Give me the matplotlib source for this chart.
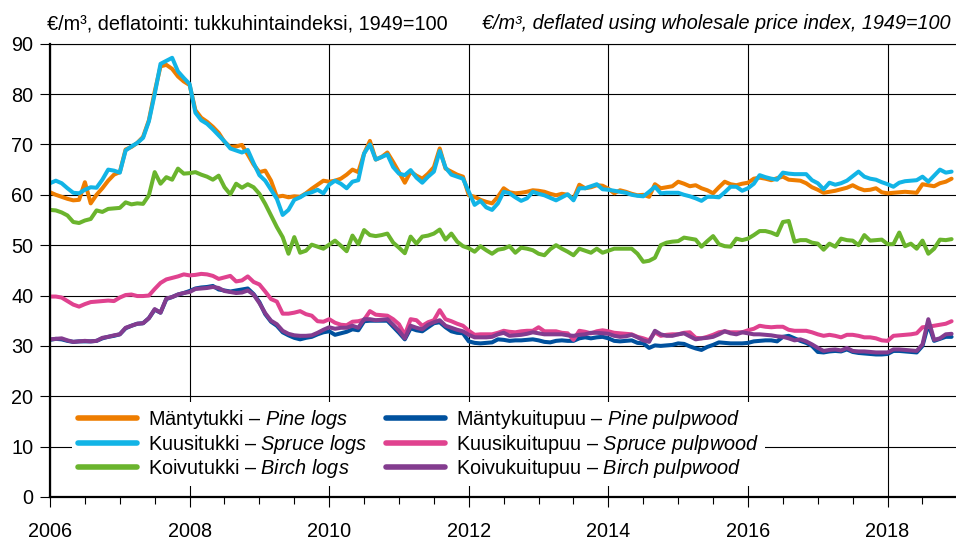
import numpy as np
import matplotlib
matplotlib.use("Agg")
import matplotlib.pyplot as plt
from matplotlib.ticker import MultipleLocator

plt.rcParams['font.family'] = ['Liberation Sans', 'DejaVu Sans']
plt.rcParams['mathtext.fontset'] = 'custom'
plt.rcParams['mathtext.rm'] = 'Liberation Sans'
plt.rcParams['mathtext.it'] = 'Liberation Sans:italic'

# monthly real stumpage prices, Jan 2006 - Dec 2018
pine_logs = [
    60.5, 60.0, 59.6, 59.2, 58.9, 59.0, 62.5, 58.3, 60.0, 61.3, 62.8, 64.0,
    64.5, 69.0, 69.5, 70.3, 71.5, 74.8, 80.5, 85.5, 85.8, 85.0, 83.5, 82.5,
    81.8, 76.8, 75.3, 74.5, 73.5, 72.3, 70.5, 69.5, 69.6, 69.9, 68.0, 66.0,
    64.5, 64.8, 62.8, 59.6, 59.8, 59.5, 59.7, 59.6, 60.3, 61.2, 62.0, 62.8,
    62.6, 62.8, 63.2, 64.0, 65.0, 64.5, 68.2, 70.7, 67.0, 67.5, 68.4, 66.5,
    64.5, 62.4, 64.6, 63.8, 63.2, 64.2, 65.5, 69.2, 65.2, 64.6, 64.0, 63.6,
    59.9, 59.6, 59.0, 58.6, 58.3, 59.6, 61.3, 60.5, 60.3, 60.4, 60.6, 60.9,
    60.8, 60.6, 60.2, 59.9, 60.2, 60.0, 59.2, 62.0, 61.3, 61.5, 61.9, 61.8,
    61.2, 60.3, 60.9, 60.6, 60.2, 59.9, 60.0, 59.6, 62.1, 61.3, 61.5, 61.7,
    62.6, 62.2, 61.7, 61.9, 61.3, 60.9, 60.3, 61.5, 62.6, 62.1, 61.9, 62.2,
    62.4, 63.2, 63.4, 63.2, 62.9, 63.3, 63.6, 63.0, 62.9, 62.8, 62.3, 61.5,
    61.0, 60.4, 60.6, 60.8, 61.1, 61.4, 61.9, 61.3, 60.9, 61.0, 61.3, 60.5,
    60.3, 60.4, 60.5, 60.6, 60.5, 60.4, 62.1, 61.9, 61.7, 62.3, 62.6, 63.2,
]
spruce_logs = [
    62.3, 62.8, 62.3, 61.3, 60.4, 60.3, 61.0, 61.5, 61.4, 63.0, 65.0, 64.8,
    64.4, 68.8, 69.6, 70.3, 71.3, 74.6, 80.0, 86.0, 86.6, 87.2, 84.5, 83.2,
    82.0, 76.3, 74.8, 74.1, 73.0, 71.8, 70.6, 69.2, 68.8, 68.4, 68.9, 66.3,
    63.9, 62.8, 61.0, 59.2, 56.0, 57.0, 59.0, 59.5, 60.2, 60.5, 61.0, 60.3,
    62.0, 62.8, 62.2, 61.3, 62.6, 62.9, 68.2, 70.0, 67.0, 67.5, 68.0, 65.5,
    64.2, 63.9, 64.9, 63.4, 62.4, 63.6, 64.6, 68.7, 65.4, 64.0, 63.6, 63.2,
    60.6, 58.0, 58.8, 57.5, 57.0, 58.3, 60.6, 60.3, 59.5, 58.8, 59.3, 60.6,
    60.2, 59.9, 59.4, 58.9, 59.5, 60.1, 58.9, 61.3, 61.3, 61.7, 62.1, 61.1,
    61.0, 60.8, 60.6, 60.4, 60.0, 59.8, 59.7, 60.6, 61.6, 60.3, 60.4, 60.4,
    60.4, 60.0, 59.7, 59.3, 58.8, 59.6, 59.6, 59.5, 60.5, 61.6, 61.6, 60.8,
    61.3, 62.2, 63.9, 63.5, 63.2, 63.0, 64.4, 64.2, 64.1, 64.1, 64.1, 62.9,
    62.3, 61.1, 62.4, 62.0, 62.3, 62.8, 63.7, 64.6, 63.6, 63.2, 63.0, 62.5,
    62.1, 61.6, 62.4, 62.7, 62.8, 62.9, 63.6, 62.6, 63.8, 65.0, 64.4, 64.6,
]
birch_logs = [
    57.0, 56.9, 56.5, 55.9, 54.6, 54.4, 54.9, 55.2, 56.9, 56.6, 57.2, 57.3,
    57.4, 58.5, 58.1, 58.3, 58.2, 59.9, 64.5, 62.2, 63.5, 63.0, 65.2, 64.2,
    64.3, 64.5, 64.0, 63.6, 63.0, 63.8, 61.5, 60.1, 62.2, 61.4, 62.1, 61.5,
    60.2, 58.2, 55.9, 53.6, 51.6, 48.3, 51.6, 48.5, 48.9, 50.1, 49.7, 49.3,
    50.1, 50.9, 49.9, 48.8, 51.9, 50.2, 53.0, 52.0, 51.8, 52.0, 52.3, 50.5,
    49.5, 48.4, 51.7, 50.3, 51.7, 51.9, 52.3, 53.1, 51.1, 52.3, 50.7, 49.8,
    49.4, 48.7, 49.8, 49.0, 48.3, 49.1, 49.3, 49.8, 48.5, 49.5, 49.3, 49.0,
    48.3, 48.0, 49.2, 50.0, 49.3, 48.7, 48.0, 49.3, 48.9, 48.5, 49.3, 48.5,
    48.9, 49.3, 49.3, 49.3, 49.3, 48.3, 46.7, 46.9, 47.5, 50.0, 50.5, 50.7,
    50.8, 51.5, 51.3, 51.1, 49.7, 50.8, 51.8, 50.2, 49.8, 49.7, 51.3, 51.0,
    51.3, 52.0, 52.8, 52.8, 52.5, 52.0, 54.6, 54.8, 50.7, 51.0, 51.0, 50.5,
    50.3, 49.1, 50.3, 49.7, 51.3, 51.0, 50.9, 50.0, 52.0, 50.9, 51.0, 51.1,
    50.2, 50.2, 52.5, 49.8, 50.3, 49.3, 50.9, 48.3, 49.3, 51.1, 51.0, 51.2,
]
pine_pulp = [
    31.2, 31.4, 31.3, 31.0, 30.8, 30.9, 30.9, 30.9, 31.0, 31.5, 31.8, 32.0,
    32.3, 33.5, 34.0, 34.4, 34.5, 35.5, 37.2, 36.6, 39.3, 39.7, 40.2, 40.5,
    40.9, 41.4, 41.6, 41.7, 41.9, 41.2, 41.0, 40.8, 41.0, 41.2, 41.4, 40.3,
    38.7, 36.3, 34.8, 34.0, 32.7, 32.1, 31.6, 31.3, 31.6, 31.8, 32.3, 32.7,
    32.9, 32.2, 32.5, 32.8, 33.3, 33.1, 34.9, 35.0, 35.0, 35.0, 35.0, 33.8,
    32.6, 31.3, 33.5, 33.1, 32.9, 33.7, 34.5, 34.7, 33.7, 32.9, 32.6, 32.5,
    30.9, 30.6, 30.5, 30.6, 30.7, 31.3, 31.2, 31.0, 31.1, 31.1, 31.2, 31.3,
    31.1, 30.8, 30.7, 31.0, 31.1, 31.0, 31.0, 31.5, 31.7, 31.5, 31.7, 31.8,
    31.5, 31.0, 30.9, 31.0, 31.1, 30.6, 30.5, 29.6, 30.1, 30.0, 30.1, 30.2,
    30.5, 30.4, 29.9, 29.5, 29.2, 29.8, 30.2, 30.7, 30.6, 30.5, 30.5, 30.5,
    30.6, 30.9, 31.0, 31.1, 31.1, 30.9, 31.8, 32.0, 31.5, 31.0, 30.6, 30.0,
    28.8, 28.7, 28.9, 29.0, 28.9, 29.3, 28.8, 28.6, 28.5, 28.4, 28.3, 28.3,
    28.4, 29.0, 29.0, 28.9, 28.8, 28.7, 30.0, 34.3, 31.0, 31.4, 31.8, 31.8,
]
spruce_pulp = [
    39.8, 39.8, 39.6, 38.9, 38.2, 37.8, 38.3, 38.7, 38.8, 38.9, 39.0, 38.9,
    39.6, 40.1, 40.2, 39.9, 39.9, 40.0, 41.3, 42.5, 43.2, 43.5, 43.8, 44.2,
    44.0, 44.1, 44.3, 44.2, 43.9, 43.3, 43.6, 43.9, 42.8, 43.0, 43.8, 42.7,
    42.2, 40.8, 39.3, 38.8, 36.4, 36.4, 36.6, 36.9, 36.3, 36.0, 34.9, 34.8,
    35.3, 34.6, 34.2, 34.1, 34.8, 34.9, 35.2, 36.9, 36.2, 36.1, 36.0, 35.3,
    34.3, 32.2, 35.3, 35.1, 34.0, 34.7, 35.1, 37.1, 35.3, 34.9, 34.4, 34.0,
    33.0, 32.2, 32.3, 32.3, 32.3, 32.6, 33.0, 32.8, 32.7, 32.9, 33.0, 33.0,
    33.7, 32.9, 32.9, 32.9, 32.6, 32.5, 31.2, 33.0, 32.8, 32.5, 32.9, 33.1,
    32.9, 32.6, 32.5, 32.4, 32.3, 31.8, 31.5, 31.1, 32.7, 32.0, 32.2, 32.3,
    32.3, 32.6, 32.7, 31.6, 31.5, 31.8, 32.2, 32.7, 32.9, 32.7, 32.7, 32.7,
    33.1, 33.4, 34.0, 33.8, 33.7, 33.8, 33.8, 33.2, 33.0, 33.0, 33.0, 32.7,
    32.3, 32.0, 32.2, 32.0, 31.7, 32.2, 32.2, 32.0, 31.7, 31.7, 31.5, 31.1,
    31.0, 32.0, 32.1, 32.2, 32.3, 32.5, 33.7, 33.8, 34.0, 34.2, 34.4, 34.9,
]
birch_pulp = [
    31.3, 31.4, 31.5, 31.1, 30.8, 30.9, 31.0, 30.9, 31.0, 31.6, 31.8, 32.1,
    32.3, 33.6, 34.0, 34.4, 34.5, 35.5, 37.3, 36.6, 39.4, 39.7, 40.2, 40.5,
    40.7, 41.3, 41.4, 41.5, 41.7, 41.5, 40.9, 40.7, 40.5, 40.6, 41.0, 40.2,
    38.5, 36.5, 35.0, 34.3, 33.0, 32.4, 32.1, 32.0, 32.0, 32.1, 32.6, 33.2,
    33.7, 33.4, 33.6, 33.6, 34.0, 33.6, 35.3, 35.3, 35.1, 35.2, 35.3, 34.2,
    33.0, 31.5, 34.0, 33.6, 33.3, 34.2, 34.7, 35.1, 34.0, 33.6, 33.2, 32.9,
    32.2, 31.7, 31.7, 31.7, 31.8, 32.3, 32.6, 32.0, 32.1, 32.2, 32.4, 32.7,
    32.5, 32.3, 32.3, 32.3, 32.3, 32.1, 32.0, 32.2, 32.3, 32.6, 32.6, 32.5,
    32.4, 32.0, 31.8, 31.9, 32.2, 31.7, 31.1, 30.8, 33.0, 32.3, 32.0, 32.0,
    32.3, 32.5, 31.9, 31.3, 31.5, 31.6, 31.8, 32.3, 32.9, 32.5, 32.3, 32.7,
    32.5, 32.3, 32.3, 32.2, 32.1, 31.9, 31.8, 31.5, 31.1, 31.3, 30.9, 30.3,
    29.6, 29.0, 29.2, 29.3, 29.1, 29.6, 29.0, 28.9, 28.9, 28.8, 28.7, 28.7,
    28.7, 29.3, 29.3, 29.2, 29.1, 29.0, 30.3, 35.3, 31.2, 31.5, 32.3, 32.4,
]

labels = [
    r'Mäntytukki – $\mathit{Pine\ logs}$',
    r'Kuusitukki – $\mathit{Spruce\ logs}$',
    r'Koivutukki – $\mathit{Birch\ logs}$',
    r'Mäntykuitupuu – $\mathit{Pine\ pulpwood}$',
    r'Kuusikuitupuu – $\mathit{Spruce\ pulpwood}$',
    r'Koivukuitupuu – $\mathit{Birch\ pulpwood}$',
]
series = [pine_logs, spruce_logs, birch_logs, pine_pulp, spruce_pulp, birch_pulp]
colors = ['#EE7D00', '#12B4E6', '#6AB42D', '#00519E', '#E0428F', '#833C8F']

t = 2006 + np.arange(len(pine_logs)) / 12
fs = 14.3

fig = plt.figure(figsize=(9.56, 5.42), dpi=100)
ax = fig.add_axes([50 / 956, 1 - 497 / 542, 907.4 / 956, 453.3 / 542])

for vals, lab, col in zip(series, labels, colors):
    ax.plot(t, vals, color=col, lw=2.9, label=lab,
            solid_joinstyle='round', solid_capstyle='round')

ax.set_xlim(2006, 2019)
ax.set_ylim(0, 90)
ax.xaxis.set_major_locator(MultipleLocator(2))
ax.xaxis.set_minor_locator(MultipleLocator(0.5))
ax.yaxis.set_major_locator(MultipleLocator(10))

ax.set_axisbelow(True)
ax.grid(True, which='major', color='black', lw=0.8)
ax.spines['right'].set_visible(False)
ax.spines['top'].set_linewidth(0.8)
ax.spines['left'].set_linewidth(1.6)
ax.spines['bottom'].set_linewidth(1.6)

ax.tick_params(axis='x', which='major', direction='out', length=7, width=0.8,
               labelsize=fs, pad=11)
ax.tick_params(axis='x', which='minor', direction='out', length=5, width=0.8)
ax.tick_params(axis='y', which='major', direction='out', length=7, width=0.8,
               labelsize=fs, pad=5)

leg = ax.legend(ncol=2, loc='upper left', bbox_to_anchor=(22 / 907.4, 95 / 453.3),
                borderaxespad=0, borderpad=0.3, fontsize=fs, handlelength=2.97,
                handletextpad=0.55, columnspacing=0.95, labelspacing=0.08,
                frameon=True, fancybox=False, framealpha=1)
leg.get_frame().set_edgecolor('none')
leg.get_frame().set_facecolor('white')
for h in leg.get_lines():
    h.set_linewidth(4)

fig.text(47 / 956, 1 - 29 / 542, '€/m³, deflatointi: tukkuhintaindeksi, 1949=100',
         fontsize=fs, ha='left', va='baseline')
fig.text(951 / 956, 1 - 29 / 542, '€/m³, deflated using wholesale price index, 1949=100',
         fontsize=fs, ha='right', va='baseline', style='italic')

fig.savefig('out.png', dpi=100)
